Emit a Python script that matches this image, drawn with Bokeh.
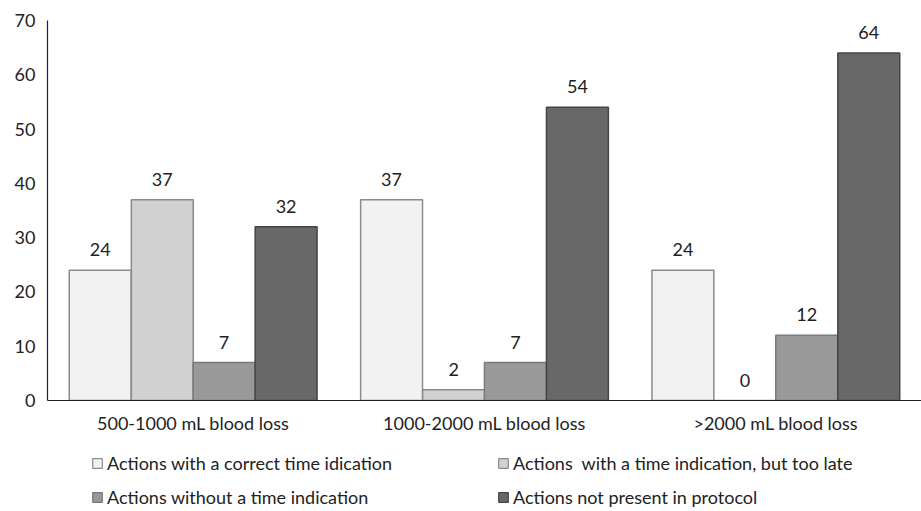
from bokeh.plotting import figure
from bokeh.layouts import column
from bokeh.models import ColumnDataSource, FactorRange, Range1d, FixedTicker, Legend, LegendItem, LabelSet
from bokeh.core.properties import value
from bokeh.transform import dodge
from bokeh.embed import file_html
from bokeh.resources import INLINE

categories = ["500-1000 mL blood loss", "1000-2000 mL blood loss", ">2000 mL blood loss"]
series_names = [
    "Actions with a correct time idication",
    "Actions  with a time indication, but too late",
    "Actions without a time indication",
    "Actions not present in protocol",
]
correct_time = [24, 37, 24]
too_late = [37, 2, 0]
no_time = [7, 7, 12]
not_in_protocol = [32, 54, 64]
y_ticks = [0, 10, 20, 30, 40, 50, 60, 70]

FONT = "Lato"
FS = "18px"
fills = ["#f2f2f2", "#d0d1d0", "#999999", "#686868"]
edges = ["#8a8a8a", "#8a8a8a", "#7a7a7a", "#454545"]
offsets = [-0.319, -0.106, 0.106, 0.319]
bar_w = 0.2125

src = ColumnDataSource(dict(
    cat=categories,
    s0=correct_time, s1=too_late, s2=no_time, s3=not_in_protocol,
    l0=[str(v) for v in correct_time], l1=[str(v) for v in too_late],
    l2=[str(v) for v in no_time], l3=[str(v) for v in not_in_protocol],
))

p = figure(width=921, height=440, x_range=FactorRange(*categories), y_range=Range1d(0, 70),
           output_backend="svg", toolbar_location=None,
           min_border_left=47, min_border_right=0, min_border_top=20, min_border_bottom=40)
p.outline_line_color = None
p.xgrid.grid_line_color = None
p.ygrid.grid_line_color = None
p.x_range.range_padding = 0

for i, col in enumerate(["s0", "s1", "s2", "s3"]):
    p.vbar(x=dodge("cat", offsets[i], range=p.x_range), top=col, width=bar_w, source=src,
           fill_color=fills[i], line_color=edges[i], line_width=1.5)
    lbl = LabelSet(x=dodge("cat", offsets[i], range=p.x_range), y=col, text="l" + col[1], source=src,
                   text_align="center", text_baseline="bottom", y_offset=14,
                   text_font=value(FONT), text_font_size=value(FS), text_color="#222222")
    p.add_layout(lbl)

p.yaxis.ticker = FixedTicker(ticks=y_ticks)
for ax in (p.xaxis, p.yaxis):
    ax.major_tick_line_color = None
    ax.minor_tick_line_color = None
    ax.major_tick_out = 0
    ax.major_tick_in = 0
    ax.axis_line_color = "#222222"
    ax.axis_line_width = 1.2
    ax.major_label_text_font = FONT
    ax.major_label_text_font_size = FS
    ax.major_label_text_color = "#222222"
p.yaxis.major_label_standoff = 12
p.xaxis.major_label_standoff = 11

# legend panel
pl = figure(width=921, height=71, x_range=Range1d(0, 1), y_range=Range1d(0, 1),
            output_backend="svg", toolbar_location=None,
            min_border_left=0, min_border_right=0, min_border_top=0, min_border_bottom=0)
pl.axis.visible = False
pl.grid.visible = False
pl.outline_line_color = None
items = []
for i in range(4):
    # off-screen swatch renderer: only used to draw the legend glyph
    r = pl.vbar(x=[-5.0], top=[-5.0], width=0.1, fill_color=fills[i], line_color=edges[i], line_width=1.2)
    items.append(LegendItem(label=series_names[i], renderers=[r]))
legend = Legend(items=items, ncols=2, location=(44, 3), orientation="horizontal",
                label_text_font=FONT, label_text_font_size=FS, label_text_color="#222222",
                glyph_width=12, glyph_height=12, label_width=378, label_height=20, spacing=12,
                label_standoff=4, padding=0, margin=0, border_line_alpha=0,
                background_fill_alpha=0)
pl.add_layout(legend)

layout = column(p, pl, spacing=0)
open("out.html", "w").write(file_html(layout, INLINE))
